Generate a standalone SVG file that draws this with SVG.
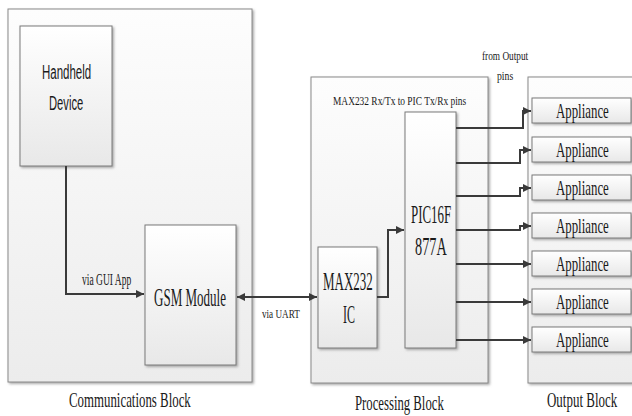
<svg xmlns="http://www.w3.org/2000/svg" width="632" height="416" viewBox="0 0 632 416">
<defs>
<linearGradient id="gCont" x1="0" y1="0" x2="0" y2="1"><stop offset="0" stop-color="#fdfdfd"/><stop offset="1" stop-color="#ececec"/></linearGradient>
<linearGradient id="gBox" x1="0" y1="0" x2="0" y2="1"><stop offset="0" stop-color="#ffffff"/><stop offset="1" stop-color="#e8e8e8"/></linearGradient>
<filter id="sh" x="-10%" y="-10%" width="130%" height="130%"><feDropShadow dx="1.5" dy="1.5" stdDeviation="1" flood-color="#888" flood-opacity="0.7"/></filter>
<marker id="ah" markerUnits="userSpaceOnUse" markerWidth="10" markerHeight="10" refX="9" refY="5" orient="auto-start-reverse"><path d="M1,1 L9,5 L1,9 Z" fill="#3a3a3a"/></marker>
</defs>
<style>
.cont{fill:url(#gCont);stroke:#8a8a8a;stroke-width:1;filter:url(#sh)}
.box{fill:url(#gBox);stroke:#7a7a7a;stroke-width:1;filter:url(#sh)}
.ser{font-family:"Liberation Serif","Times New Roman",serif;fill:#1a1a1a}
.san{font-family:"Liberation Sans",Arial,sans-serif;fill:#1a1a1a}
.ln{fill:none;stroke:#3a3a3a;stroke-width:2}
.ap{font-size:21px}
</style>
<g id="communications-block">
<rect class="cont" x="8" y="9" width="244" height="373"/>
<text class="ser" transform="translate(69,407) scale(0.6,1)" font-size="21" textLength="203" lengthAdjust="spacingAndGlyphs">Communications Block</text>
</g>
<g id="processing-block">
<rect class="cont" x="311" y="77" width="177" height="306"/>
<text class="ser" transform="translate(333,105) scale(0.6,1)" font-size="12" textLength="222" lengthAdjust="spacingAndGlyphs">MAX232 Rx/Tx to PIC Tx/Rx pins</text>
<text class="ser" transform="translate(355,410) scale(0.6,1)" font-size="21" textLength="148" lengthAdjust="spacingAndGlyphs">Processing Block</text>
</g>
<g id="output-block">
<rect class="cont" x="528" y="77" width="120" height="306"/>
<text class="ser" transform="translate(547,407) scale(0.6,1)" font-size="21" textLength="117" lengthAdjust="spacingAndGlyphs">Output Block</text>
</g>
<g id="handheld-device">
<rect class="box" x="20" y="26" width="92" height="140"/>
<text class="san" transform="translate(42,79) scale(0.6,1)" font-size="20" textLength="82" lengthAdjust="spacingAndGlyphs">Handheld</text>
<text class="san" transform="translate(49,110) scale(0.6,1)" font-size="20" textLength="57" lengthAdjust="spacingAndGlyphs">Device</text>
</g>
<g id="gsm-module">
<rect class="box" x="145" y="225" width="91" height="140"/>
<text class="ser" transform="translate(154,306) scale(0.6,1)" font-size="25" textLength="120" lengthAdjust="spacingAndGlyphs">GSM Module</text>
</g>
<g id="max232-ic">
<rect class="box" x="318" y="247" width="59" height="101"/>
<text class="ser" transform="translate(323,290) scale(0.6,1)" font-size="26" textLength="83" lengthAdjust="spacingAndGlyphs">MAX232</text>
<text class="ser" transform="translate(343,323) scale(0.6,1)" font-size="26" textLength="20" lengthAdjust="spacingAndGlyphs">IC</text>
</g>
<g id="pic16f877a">
<rect class="box" x="405" y="112" width="51" height="236"/>
<text class="ser" transform="translate(411,223) scale(0.6,1)" font-size="25" textLength="67" lengthAdjust="spacingAndGlyphs">PIC16F</text>
<text class="ser" transform="translate(415,255) scale(0.6,1)" font-size="25" textLength="53" lengthAdjust="spacingAndGlyphs">877A</text>
</g>
<g id="appliance-1"><rect class="box" x="532" y="98" width="99" height="25"/><text class="ser ap" transform="translate(556,118) scale(0.6,1)" textLength="88" lengthAdjust="spacingAndGlyphs">Appliance</text></g>
<g id="appliance-2"><rect class="box" x="532" y="137" width="99" height="25"/><text class="ser ap" transform="translate(556,157) scale(0.6,1)" textLength="88" lengthAdjust="spacingAndGlyphs">Appliance</text></g>
<g id="appliance-3"><rect class="box" x="532" y="175" width="99" height="25"/><text class="ser ap" transform="translate(556,195) scale(0.6,1)" textLength="88" lengthAdjust="spacingAndGlyphs">Appliance</text></g>
<g id="appliance-4"><rect class="box" x="532" y="213" width="99" height="25"/><text class="ser ap" transform="translate(556,233) scale(0.6,1)" textLength="88" lengthAdjust="spacingAndGlyphs">Appliance</text></g>
<g id="appliance-5"><rect class="box" x="532" y="251" width="99" height="25"/><text class="ser ap" transform="translate(556,271) scale(0.6,1)" textLength="88" lengthAdjust="spacingAndGlyphs">Appliance</text></g>
<g id="appliance-6"><rect class="box" x="532" y="289" width="99" height="25"/><text class="ser ap" transform="translate(556,309) scale(0.6,1)" textLength="88" lengthAdjust="spacingAndGlyphs">Appliance</text></g>
<g id="appliance-7"><rect class="box" x="532" y="327" width="99" height="25"/><text class="ser ap" transform="translate(556,347) scale(0.6,1)" textLength="88" lengthAdjust="spacingAndGlyphs">Appliance</text></g>
<g id="connectors">
<path class="ln" d="M66,166 V294 H144" marker-end="url(#ah)"/>
<text class="ser" transform="translate(82,285) scale(0.6,1)" font-size="16" textLength="82" lengthAdjust="spacingAndGlyphs">via GUI App</text>
<path class="ln" d="M237,297 H317" marker-start="url(#ah)" marker-end="url(#ah)"/>
<text class="ser" transform="translate(262,318) scale(0.6,1)" font-size="12" textLength="63" lengthAdjust="spacingAndGlyphs">via UART</text>
<path class="ln" d="M377,297 H388 V230 H404" marker-end="url(#ah)"/>
<path class="ln" d="M456,128 H523 V111 H531" marker-end="url(#ah)"/>
<path class="ln" d="M456,163 H520 V150 H531" marker-end="url(#ah)"/>
<path class="ln" d="M456,196 H520 V188 H531" marker-end="url(#ah)"/>
<path class="ln" d="M456,230 H520 V226 H531" marker-end="url(#ah)"/>
<path class="ln" d="M456,264 H531" marker-end="url(#ah)"/>
<path class="ln" d="M456,302 H531" marker-end="url(#ah)"/>
<path class="ln" d="M456,340 H531" marker-end="url(#ah)"/>
<text class="ser" transform="translate(482,60) scale(0.6,1)" font-size="13" textLength="77" lengthAdjust="spacingAndGlyphs">from Output</text>
<text class="ser" transform="translate(497,80) scale(0.6,1)" font-size="13" textLength="27" lengthAdjust="spacingAndGlyphs">pins</text>
</g>
</svg>
